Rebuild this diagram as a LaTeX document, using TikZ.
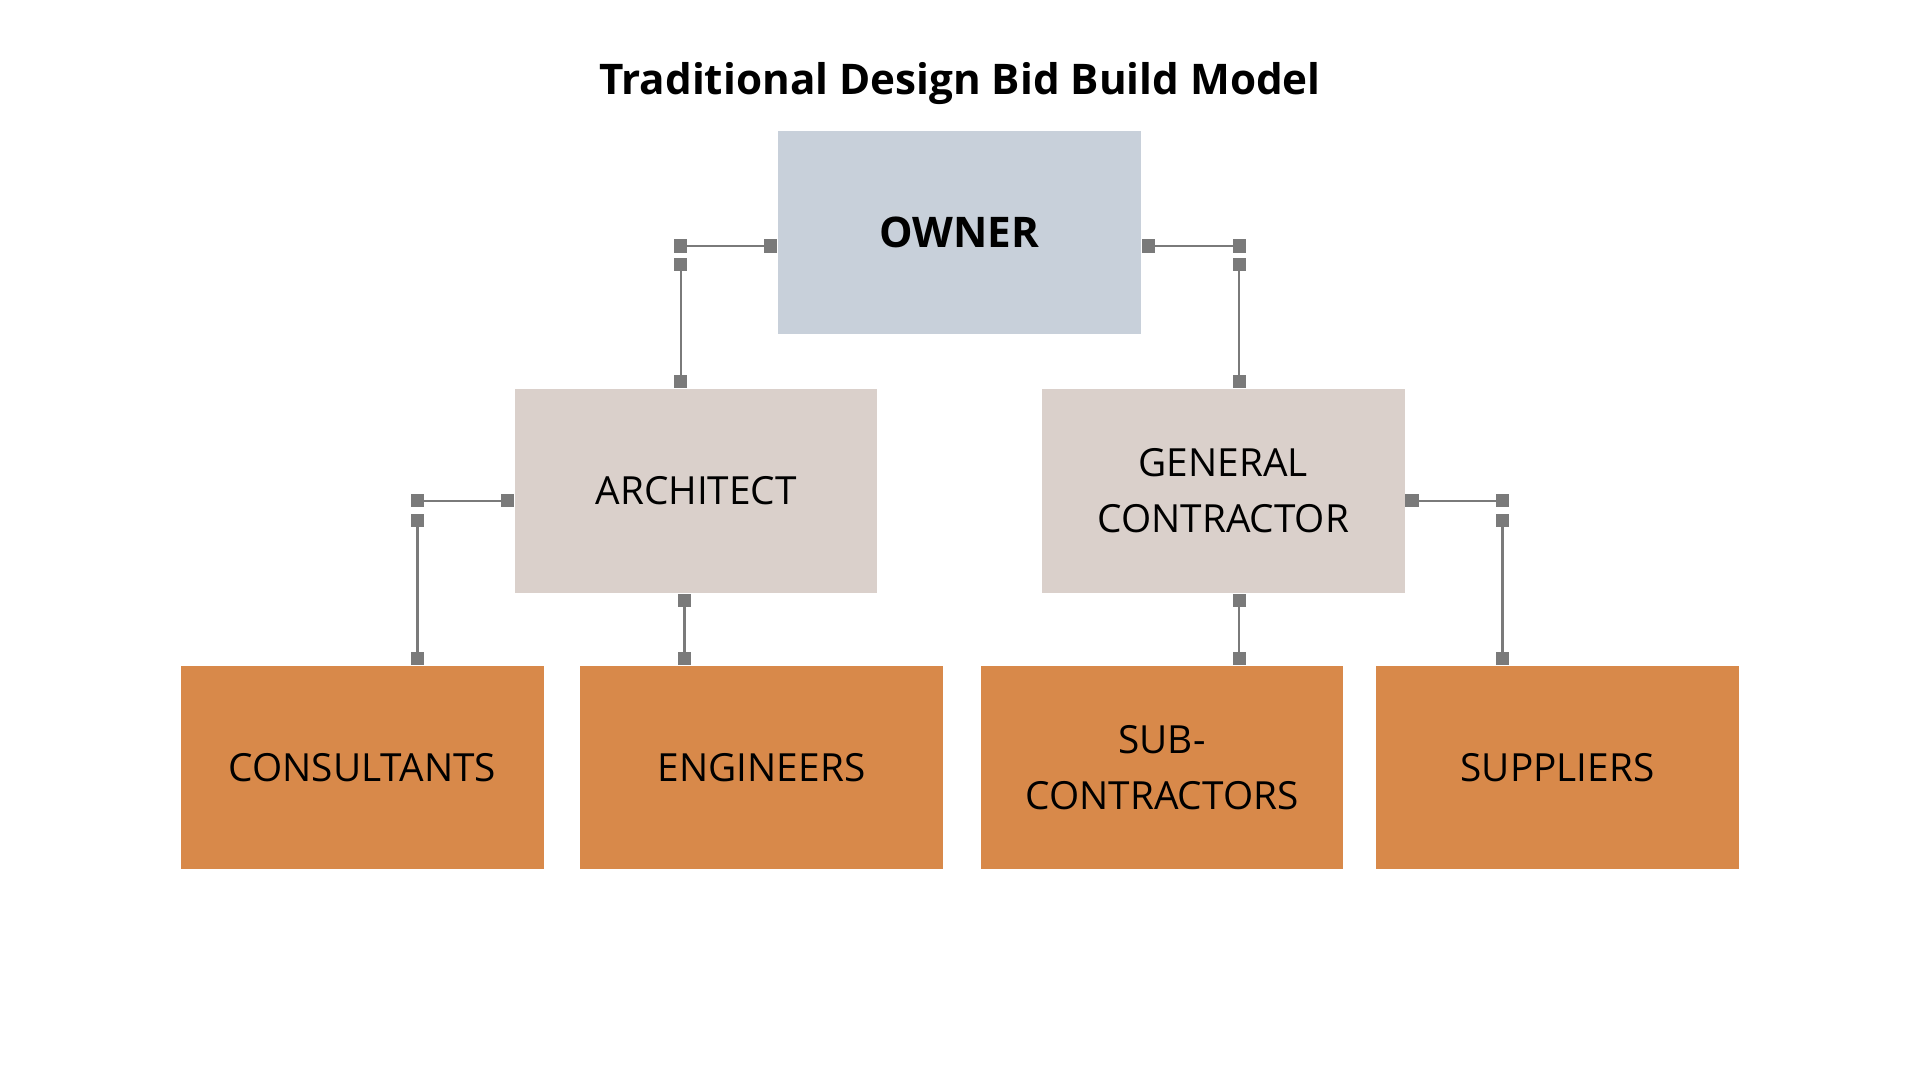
\documentclass[tikz,border=0pt]{standalone}
\usepackage{fontspec}
\setmainfont{Open Sans}
\usetikzlibrary{positioning,arrows.meta}
\definecolor{ownerblue}{HTML}{C8D0DA}
\definecolor{midgrey}{HTML}{DAD0CB}
\definecolor{loworange}{HTML}{D8894A}
\definecolor{linkgrey}{HTML}{7A7A7A}
\begin{document}
\begin{tikzpicture}[x=0.01cm, y=-0.01cm,
box/.style={rectangle,inner sep=0pt,minimum width=2.96cm,minimum height=1.66cm,align=center,font=\fontsize{9}{13}\selectfont},
top/.style={box,fill=ownerblue,font=\fontsize{9.8}{13}\selectfont\bfseries},
mid/.style={box,fill=midgrey},
low/.style={box,fill=loworange},
link/.style={draw=linkgrey,line width=0.6pt,{Square[length=3.1pt,width=3.1pt]}-{Square[length=3.1pt,width=3.1pt]}}
]
\useasboundingbox (0,0) rectangle (1568,880);
%create nodes
\node[font=\fontsize{9.8}{12}\selectfont\bfseries] (title) at (784,68) {Traditional Design Bid Build Model};
\node[top] (owner) at (783.5,190) {OWNER};
\node[mid] (arch) at (568.5,401) {ARCHITECT};
\node[mid] (gc) at (999,401) {GENERAL\\CONTRACTOR};
\node[low] (cons) at (296,627) {CONSULTANTS};
\node[low] (eng) at (622,627) {ENGINEERS};
\node[low] (sub) at (949,627) {SUB-\\CONTRACTORS};
\node[low] (supp) at (1272,627) {SUPPLIERS};

%corner points
\coordinate (oa1) at (550.5,201);
\coordinate (oa2) at (556,210.5);
\coordinate (og1) at (1017.5,201);
\coordinate (og2) at (1012,210.5);
\coordinate (ac1) at (335.5,409);
\coordinate (ac2) at (341,419.5);
\coordinate (gs1) at (1232.5,409);
\coordinate (gs2) at (1227,419.5);

%draw links
\draw[link] (owner.west |- oa1) -- (oa1);
\draw[link] (oa2) -- (oa2 |- arch.north);
\draw[link] (owner.east |- og1) -- (og1);
\draw[link] (og2) -- (og2 |- gc.north);
\draw[link] (arch.west |- ac1) -- (ac1);
\draw[link] (ac2) -- (ac2 |- cons.north);
\draw[link] (gc.east |- gs1) -- (gs1);
\draw[link] (gs2) -- (gs2 |- supp.north);
\draw[link] (arch.south -| 559,0) -- (eng.north -| 559,0);
\draw[link] (gc.south -| 1012,0) -- (sub.north -| 1012,0);
\end{tikzpicture}
\end{document}
